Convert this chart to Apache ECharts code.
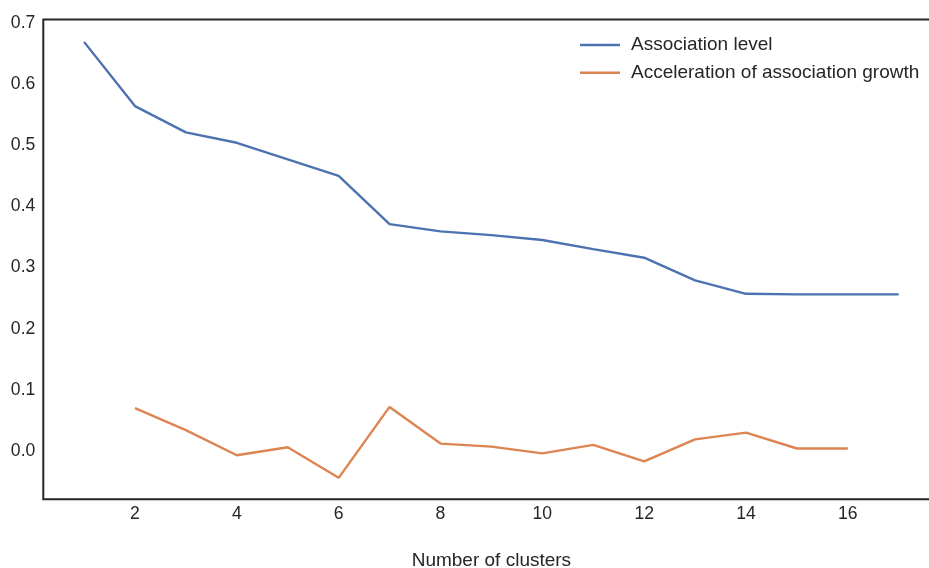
<!DOCTYPE html>
<html>
<head>
<meta charset="utf-8">
<script src="https://cdn.jsdelivr.net/npm/echarts@6/dist/echarts.min.js"></script>
<style>
html,body{margin:0;padding:0;background:#fff;}
#chart{width:929px;height:568px;}
</style>
</head>
<body>
<div id="chart"></div>
<script>
// Data
const clusters = [1,2,3,4,5,6,7,8,9,10,11,12,13,14,15,16,17];
const associationLevel = [0.665,0.560,0.517,0.500,0.473,0.446,0.367,0.355,0.349,0.341,0.326,0.312,0.275,0.253,0.252,0.252,0.252];
const accelClusters = [2,3,4,5,6,7,8,9,10,11,12,13,14,15,16];
const accelerationGrowth = [0.066,0.030,-0.011,0.002,-0.048,0.068,0.008,0.003,-0.008,0.006,-0.021,0.015,0.026,0.000,0.000];
const xTickValues = [2,4,6,8,10,12,14,16];
const yTickValues = [0.0,0.1,0.2,0.3,0.4,0.5,0.6,0.7];
const seriesNames = ['Association level','Acceleration of association growth'];

const textColor = '#262626';
const font = 'Liberation Sans, Arial, Helvetica, sans-serif';

const chart = echarts.init(document.getElementById('chart'), null, {renderer:'canvas'});
chart.setOption({
  animation:false,
  backgroundColor:'#ffffff',
  grid:{
    left:43.3, top:19.5, right:-10.5, bottom:68.7,
    outerBoundsMode:'none', containLabel:false,
    show:true, borderColor:'#262626', borderWidth:2, backgroundColor:'transparent'
  },
  legend:{
    orient:'vertical', left:575, top:30,
    icon:'rect',
    itemWidth:40, itemHeight:2.4, itemGap:7.7,
    textStyle:{fontFamily:font, fontSize:19, color:textColor, lineHeight:20, padding:[0,0,0,6]},
    data:seriesNames
  },
  xAxis:{
    type:'value', min:0.2, max:17.8,
    axisLine:{show:false}, axisTick:{show:false}, splitLine:{show:false},
    axisLabel:{customValues:xTickValues, fontFamily:font, fontSize:17.6, color:textColor, margin:6},
    name:'Number of clusters', nameLocation:'middle', nameGap:52,
    nameTextStyle:{fontFamily:font, fontSize:19, color:textColor}
  },
  yAxis:{
    type:'value', min:-0.0831, max:0.7016,
    axisLine:{show:false}, axisTick:{show:false}, splitLine:{show:false},
    axisLabel:{customValues:yTickValues, fontFamily:font, fontSize:17.6, color:textColor, margin:8,
      verticalAlign:'top', lineHeight:5,
      formatter:function(v){return v.toFixed(1);}}
  },
  series:[
    {name:seriesNames[0], type:'line', symbol:'none', showSymbol:false, smooth:false,
     lineStyle:{color:'#4C72B0', width:2.4}, itemStyle:{color:'#4C72B0'},
     data:clusters.map((c,i)=>[c, associationLevel[i]])},
    {name:seriesNames[1], type:'line', symbol:'none', showSymbol:false, smooth:false,
     lineStyle:{color:'#DD8452', width:2.4}, itemStyle:{color:'#DD8452'},
     data:accelClusters.map((c,i)=>[c, accelerationGrowth[i]])}
  ]
});
</script>
</body>
</html>
